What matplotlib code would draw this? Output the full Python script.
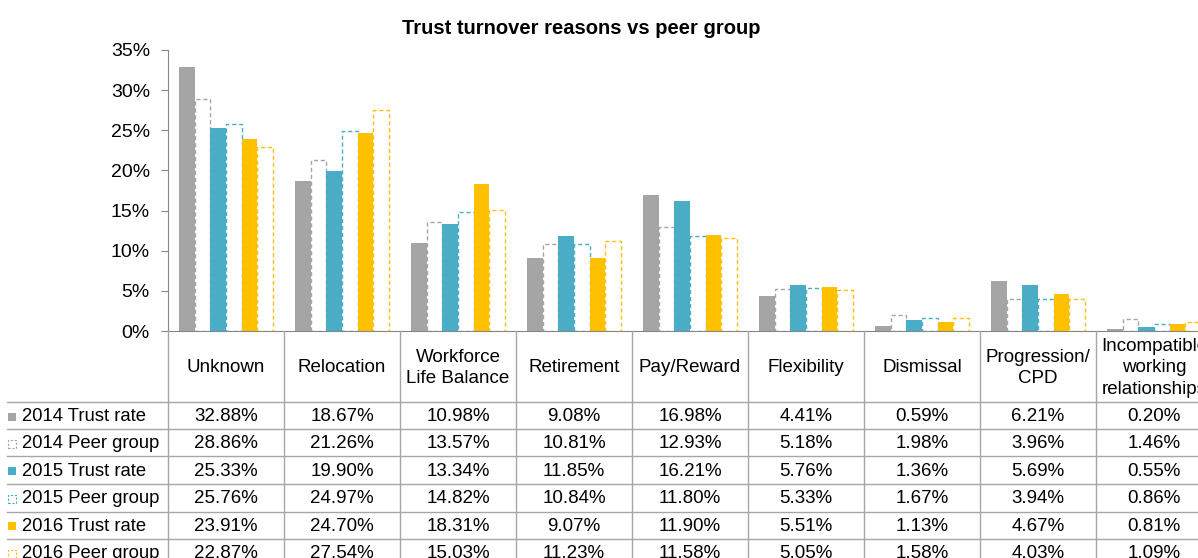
import matplotlib.pyplot as plt
import matplotlib.transforms as mtransforms
from matplotlib.lines import Line2D
from matplotlib.patches import Rectangle

plt.rcParams['font.family'] = ['Liberation Sans', 'DejaVu Sans']

categories = ['Unknown', 'Relocation', 'Workforce\nLife Balance', 'Retirement',
              'Pay/Reward', 'Flexibility', 'Dismissal', 'Progression/\nCPD',
              'Incompatible\nworking\nrelationships']
series_names = ['2014 Trust rate', '2014 Peer group', '2015 Trust rate',
                '2015 Peer group', '2016 Trust rate', '2016 Peer group']
trust_2014 = [32.88, 18.67, 10.98, 9.08, 16.98, 4.41, 0.59, 6.21, 0.20]
peer_2014 = [28.86, 21.26, 13.57, 10.81, 12.93, 5.18, 1.98, 3.96, 1.46]
trust_2015 = [25.33, 19.90, 13.34, 11.85, 16.21, 5.76, 1.36, 5.69, 0.55]
peer_2015 = [25.76, 24.97, 14.82, 10.84, 11.80, 5.33, 1.67, 3.94, 0.86]
trust_2016 = [23.91, 24.70, 18.31, 9.07, 11.90, 5.51, 1.13, 4.67, 0.81]
peer_2016 = [22.87, 27.54, 15.03, 11.23, 11.58, 5.05, 1.58, 4.03, 1.09]
series = [trust_2014, peer_2014, trust_2015, peer_2015, trust_2016, peer_2016]

colors = ['#A5A5A5', '#A5A5A5', '#4BACC6', '#4BACC6', '#FFC000', '#FFC000']
is_peer = [False, True, False, True, False, True]

W, H = 1198, 558
fig = plt.figure(figsize=(W / 100, H / 100), dpi=100)
ax = fig.add_axes([168 / W, 1 - 331 / H, 1044 / W, 281 / H])

bw = 0.134
x = list(range(len(categories)))
for k, vals in enumerate(series):
    xs = [i + (k - 2.5) * bw for i in x]
    if is_peer[k]:
        ax.bar(xs, vals, width=bw, facecolor='white', edgecolor=colors[k],
               linewidth=1.0, linestyle=(0, (3, 2)), zorder=2)
    else:
        ax.bar(xs, vals, width=bw, color=colors[k], linewidth=0, zorder=2)

ax.set_xlim(-0.5, len(categories) - 0.5)
ax.set_ylim(0, 35)
ax.set_yticks(range(0, 36, 5))
ax.set_yticklabels([f'{v}%' for v in range(0, 36, 5)], fontsize=14)
ax.set_xticks([])
for s in ['top', 'right']:
    ax.spines[s].set_visible(False)
for s in ['left', 'bottom']:
    ax.spines[s].set_color('#868686')
ax.tick_params(axis='y', length=5, color='#868686', pad=8)

fig.text(581 / W, 1 - 28 / H, 'Trust turnover reasons vs peer group',
         ha='center', va='center', fontsize=14.5, fontweight='bold')

# data table below the axis
tr = mtransforms.blended_transform_factory(ax.transData, fig.transFigure)
line_c = '#A6A6A6'


def fy(py):
    return 1 - py / H


# vertical separators
for i in range(len(categories) + 1):
    fig.add_artist(Line2D([i - 0.5, i - 0.5], [fy(331), fy(570)],
                          transform=tr, color=line_c, lw=1, clip_on=False))

row_edges = [402, 429, 456, 484, 511.5, 539, 566]
for py in row_edges:
    fig.add_artist(Line2D([7 / W, 1.0], [fy(py), fy(py)],
                          transform=fig.transFigure, color=line_c, lw=1))

for i, cat in enumerate(categories):
    fig.text(i, fy(368), cat, transform=tr, ha='center', va='center',
             multialignment='center', fontsize=13.5, linespacing=1.35)

for k, name in enumerate(series_names):
    cy = (row_edges[k] + row_edges[k + 1]) / 2 + 1
    if is_peer[k]:
        fig.add_artist(Rectangle((8 / W, fy(cy + 4)), 8 / W, 8 / H,
                                 transform=fig.transFigure, facecolor='white',
                                 edgecolor=colors[k], lw=0.8,
                                 linestyle=(0, (2, 1.5))))
    else:
        fig.add_artist(Rectangle((8 / W, fy(cy + 4)), 8 / W, 8 / H,
                                 transform=fig.transFigure,
                                 facecolor=colors[k], edgecolor='none'))
    fig.text(22 / W, fy(cy), name, ha='left', va='center', fontsize=13.3)
    for i, v in enumerate(series[k]):
        fig.text(i, fy(cy), f'{v:.2f}%', transform=tr, ha='center',
                 va='center', fontsize=13.5)

fig.savefig('out.png', dpi=100)
